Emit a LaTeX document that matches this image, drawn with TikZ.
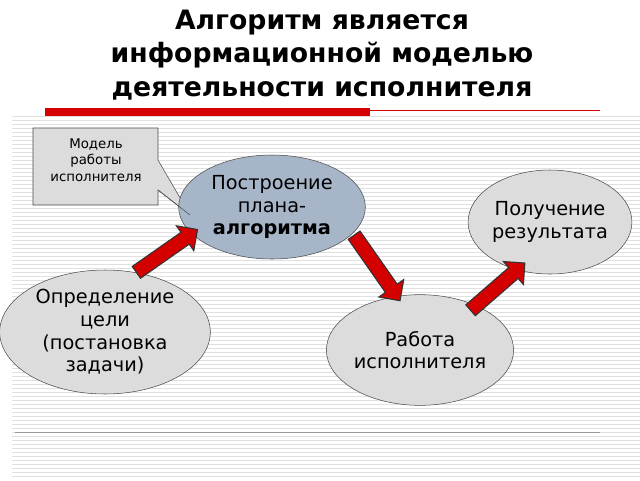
\documentclass[tikz,border=0pt]{standalone}
\usepackage{fontspec}
\setmainfont{DejaVu Sans}
\usetikzlibrary{shapes.arrows,shapes.geometric}
\definecolor{blu}{HTML}{A7B5C8}
\definecolor{lg}{HTML}{DCDCDC}
\definecolor{rd}{HTML}{D40000}
\begin{document}
\begin{tikzpicture}[x=0.75pt,y=-0.75pt,
  el/.style={draw=black!70,ellipse,inner sep=0pt,align=center,font=\fontsize{14.5}{17}\selectfont},
  ar/.style={single arrow,draw=black!80,fill=rd,inner xsep=0pt,inner ysep=5pt,single arrow head extend=6pt,line width=0.8pt}]
\useasboundingbox (0,0) rectangle (640,480);
\fill[white] (0,0) rectangle (640,480);
\foreach \y in {116,120,...,478} \draw[black!12,line width=0.5pt] (12,\y) -- (640,\y);
\fill[rd] (45,108) rectangle (370,116);
\draw[rd,line width=0.6pt] (370,110) -- (600,110);
\draw[black!40,line width=0.6pt] (15,432) -- (600,432);
\node[font=\bfseries\fontsize{20}{25}\selectfont,align=center] (title) at (322,55) {Алгоритм является\\информационной моделью\\деятельности исполнителя};
\path[draw=black!70,fill=lg] (33,128) -- (158,128) -- (158,160) -- (190,215) -- (158,190) -- (158,205) -- (33,205) -- cycle;
\node[align=center,font=\fontsize{10}{12.5}\selectfont] (cb) at (96,160) {Модель\\работы\\исполнителя};
\node[el,fill=blu,minimum width=140pt,minimum height=78pt] (plan) at (272,207) {Построение\\плана-\\\textbf{алгоритма}};
\node[el,fill=lg,minimum width=117pt,minimum height=78pt] (res) at (550,222) {Получение\\результата};
\node[el,fill=lg,minimum width=158pt,minimum height=93pt] (goal) at (105,332) {Определение\\цели\\(постановка\\задачи)};
\node[el,fill=lg,minimum width=131pt,minimum height=83pt] (work) at (420,350) {Работа\\исполнителя};
\draw[black!70] (190,215) -- (158,190);
\node[ar,minimum height=56pt,rotate=35] (a1) at (164,253) {};
\node[ar,minimum height=60pt,rotate=-55] (a2) at (375,265) {};
\node[ar,minimum height=54pt,rotate=41] (a3) at (495,289) {};
\end{tikzpicture}
\end{document}
